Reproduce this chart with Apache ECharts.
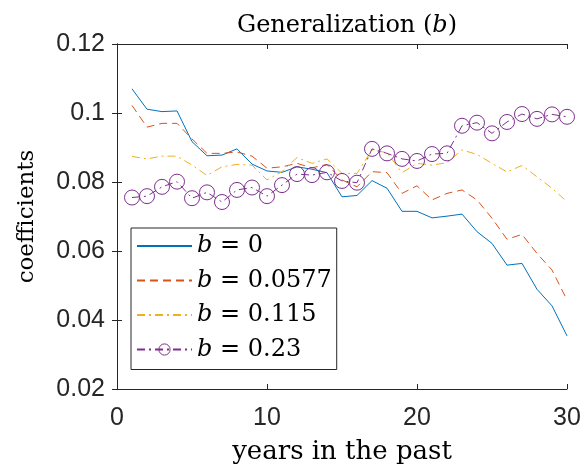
<!DOCTYPE html>
<html>
<head>
<meta charset="utf-8">
<script src="https://cdn.jsdelivr.net/npm/echarts@6/dist/echarts.min.js"></script>
<style>html,body{margin:0;padding:0;background:#fff}#c{width:584px;height:470px}</style>
</head>
<body>
<div id="c"></div>
<script>
const years = [1,2,3,4,5,6,7,8,9,10,11,12,13,14,15,16,17,18,19,20,21,22,23,24,25,26,27,28,29,30];
const b0 = [0.1070,0.1011,0.1004,0.1006,0.0917,0.0876,0.0878,0.0896,0.0852,0.0832,0.0828,0.0844,0.0837,0.0827,0.0757,0.0761,0.0804,0.0782,0.0715,0.0715,0.0696,0.0701,0.0707,0.0656,0.0622,0.0559,0.0564,0.0489,0.0441,0.0354];
const b0577 = [0.1022,0.0959,0.0970,0.0970,0.0925,0.0883,0.0883,0.0887,0.0875,0.0840,0.0844,0.0854,0.0841,0.0851,0.0806,0.0786,0.0830,0.0827,0.0767,0.0789,0.0748,0.0767,0.0777,0.0748,0.0695,0.0634,0.0648,0.0593,0.0545,0.0458];
const b115 = [0.0874,0.0867,0.0875,0.0875,0.0849,0.0819,0.0844,0.0851,0.0849,0.0806,0.0830,0.0871,0.0854,0.0867,0.0825,0.0825,0.0893,0.0885,0.0827,0.0854,0.0849,0.0856,0.0893,0.0880,0.0854,0.0829,0.0848,0.0815,0.0782,0.0743];
const b23 = [0.0755,0.0759,0.0786,0.0801,0.0753,0.0770,0.0742,0.0777,0.0784,0.0759,0.0791,0.0823,0.0820,0.0828,0.0803,0.0798,0.0896,0.0883,0.0867,0.0861,0.0881,0.0883,0.0963,0.0972,0.0941,0.0974,0.0997,0.0983,0.0996,0.0989];
const seriesNames = ['0','0.0577','0.115','0.23'];
const xTicks = [0,10,20,30];
const yTicks = [0.02,0.04,0.06,0.08,0.1,0.12];

const pairs = arr => years.map((y,i)=>[y,arr[i]]);
const axisCol = '#262626';
const serif = 'DejaVu Serif';
const sans = 'Liberation Sans';

const chart = echarts.init(document.getElementById('c'), null, {renderer:'canvas'});
const mk = (name, data, color, type, extra) => Object.assign({
  name, type:'line', data:pairs(data), showSymbol:false, symbol:'none',
  lineStyle:{color, width:1, type}, itemStyle:{color}, animation:false, z:3
}, extra||{});

chart.setOption({
  animation:false,
  backgroundColor:'#fff',
  title:{
    text:'{n|Generalization (}{i|b}{n|)}',
    left:342, top:9, textAlign:'center',
    textStyle:{fontWeight:'normal', rich:{
      n:{fontFamily:serif, fontSize:24, fontWeight:'normal', color:'#000'},
      i:{fontFamily:serif, fontSize:24, fontWeight:'normal', fontStyle:'italic', color:'#000'}
    }}
  },
  grid:{left:117, right:17, top:44, bottom:81, containLabel:false},
  xAxis:[{
    type:'value', min:0, max:30, interval:10, position:'bottom',
    name:'years in the past', nameLocation:'middle', nameGap:50,
    nameTextStyle:{fontFamily:serif, fontSize:26, color:'#000'},
    axisLine:{lineStyle:{color:axisCol, width:1}},
    axisTick:{inside:true, length:5, lineStyle:{color:axisCol}},
    axisLabel:{fontFamily:sans, fontSize:25, color:axisCol, margin:17,
      formatter: v => xTicks.includes(v) ? String(v) : ''},
    splitLine:{show:false}
  },{
    type:'value', min:0, max:30, interval:10, position:'top',
    axisLine:{lineStyle:{color:axisCol, width:1}},
    axisTick:{inside:true, length:5, lineStyle:{color:axisCol}},
    axisLabel:{show:false}, splitLine:{show:false}
  }],
  yAxis:[{
    type:'value', min:0.02, max:0.12, interval:0.02, position:'left',
    name:'coefficients', nameLocation:'middle', nameGap:78, nameRotate:90,
    nameTextStyle:{fontFamily:serif, fontSize:23, color:'#000'},
    axisLine:{show:true, lineStyle:{color:axisCol, width:1}},
    axisTick:{show:true, inside:true, length:5, lineStyle:{color:axisCol}},
    axisLabel:{fontFamily:sans, fontSize:25, color:axisCol, margin:12,
      formatter: v => { const t = yTicks.find(y=>Math.abs(y-v)<1e-9); return t===undefined?'':String(t); }},
    splitLine:{show:false}
  },{
    type:'value', min:0.02, max:0.12, interval:0.02, position:'right',
    axisLine:{show:true, lineStyle:{color:axisCol, width:1}},
    axisTick:{show:true, inside:true, length:5, lineStyle:{color:axisCol}},
    axisLabel:{show:false}, splitLine:{show:false}
  }],
  legend:{
    orient:'vertical', left:131, top:228,
    backgroundColor:'#fff', borderColor:axisCol, borderWidth:1, borderRadius:0,
    padding:[6,5,8,5], itemGap:10.5, itemWidth:55, itemHeight:14,
    data: seriesNames.map((n,i)=> i<3
      ? {name:'b = '+n, itemStyle:{opacity:0}}
      : {name:'b = '+n, itemStyle:{color:'rgba(0,0,0,0)', borderColor:'#7E2F8E', borderWidth:1}}),
    formatter: name => '{i|b}{n| = ' + name.slice(4) + '}',
    textStyle:{rich:{
      i:{fontFamily:serif, fontSize:24, fontStyle:'italic', color:'#000', lineHeight:25},
      n:{fontFamily:serif, fontSize:24, color:'#000', lineHeight:25}
    }}
  },
  series:[
    mk('b = '+seriesNames[0], b0, '#0072BD', 'solid'),
    mk('b = '+seriesNames[1], b0577, '#D95319', [8,5]),
    mk('b = '+seriesNames[2], b115, '#EDB120', [8,4,2,4]),
    mk('b = '+seriesNames[3], b23, '#7E2F8E', [8,4,2,4], {
      showSymbol:true, symbol:'circle', symbolSize:15,
      itemStyle:{color:'rgba(0,0,0,0)', borderColor:'#7E2F8E', borderWidth:1}
    })
  ]
});
</script>
</body>
</html>
